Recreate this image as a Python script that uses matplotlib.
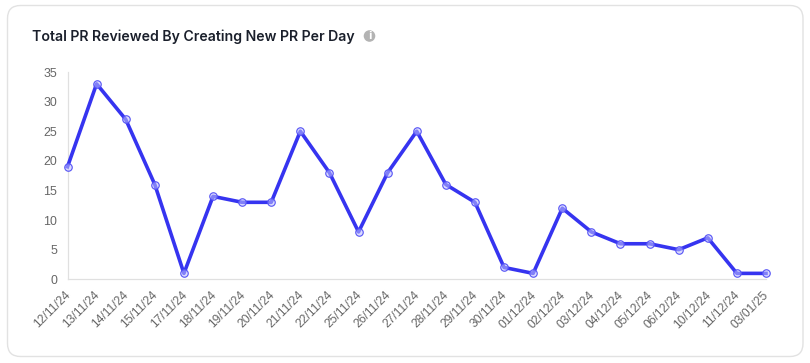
import matplotlib
matplotlib.use('Agg')
from matplotlib import pyplot as plt
from matplotlib.patches import FancyBboxPatch, Circle
from matplotlib.transforms import IdentityTransform, ScaledTranslation

dates = ['12/11/24', '13/11/24', '14/11/24', '15/11/24', '17/11/24', '18/11/24', '19/11/24',
         '20/11/24', '21/11/24', '22/11/24', '25/11/24', '26/11/24', '27/11/24', '28/11/24',
         '29/11/24', '30/11/24', '01/12/24', '02/12/24', '03/12/24', '04/12/24', '05/12/24',
         '06/12/24', '10/12/24', '11/12/24', '03/01/25']
pr_counts = [19, 33, 27, 16, 1, 14, 13, 13, 25, 18, 8, 18, 25, 16, 13, 2, 1, 12, 8, 6, 6, 5, 7, 1, 1]
y_ticks = [0, 5, 10, 15, 20, 25, 30, 35]

W, H = 810, 363
fig = plt.figure(figsize=(W / 100, H / 100), dpi=100, facecolor='white')

# card behind the chart, in pixels (y measured from the bottom)
card = FancyBboxPatch((7.5 + 13, H - 356.5 + 13), 795.5 - 26, 351 - 26,
                      boxstyle='round,pad=13,rounding_size=13',
                      transform=IdentityTransform(), facecolor='white',
                      edgecolor='#e2e2e2', linewidth=1.0, zorder=-1)
fig.add_artist(card)

left, right, top, bottom = 67.5, 766, 72, 279.3
ax = fig.add_axes([left / W, 1 - bottom / H, (right - left) / W, (bottom - top) / H])
ax.patch.set_alpha(0)

x = list(range(len(dates)))
ax.plot(x, pr_counts, color='#3634f0', linewidth=2.6, zorder=3, clip_on=False)
# hollow looking markers, the line shows through the fill
ax.plot(x, pr_counts, linestyle='none', marker='o', markersize=5.4,
        markerfacecolor=(0.75, 0.75, 1.0, 0.55), markeredgecolor='#5553f5', markeredgewidth=0.8,
        clip_on=False, zorder=4)

ax.set_xlim(0, len(dates) - 1)
ax.set_ylim(0, 35)
ax.set_yticks(y_ticks)
ax.set_xticks(x)
ax.set_xticklabels(dates, rotation=45, ha='right', va='top', rotation_mode='anchor',
                   family='Liberation Sans', fontsize=8.64, color='#666666')
for lab in ax.get_yticklabels():
    lab.set_family('Liberation Sans')
    lab.set_fontsize(8.9)
    lab.set_color('#666666')
ax.tick_params(axis='both', length=0)
ax.tick_params(axis='x', pad=7)
ax.tick_params(axis='y', pad=7.6)

# nudge the date labels left a little
shift = ScaledTranslation(-3 / 100, 0, fig.dpi_scale_trans)
for lab in ax.get_xticklabels():
    lab.set_transform(lab.get_transform() + shift)

for side in ['top', 'right']:
    ax.spines[side].set_visible(False)
for side in ['left', 'bottom']:
    ax.spines[side].set_color('#e0e0e0')
    ax.spines[side].set_linewidth(0.9)

fig.text(32 / W, 1 - 36.5 / H, 'Total PR Reviewed By Creating New PR Per Day', family='Inter',
         fontweight='semibold', fontsize=10.15, color='#1a1f2b', ha='left', va='center')

# info icon next to the title
fig.add_artist(Circle((369.5, H - 36), 5.8, transform=IdentityTransform(),
                      facecolor='#b3b3b3', edgecolor='none'))
fig.text(369.5 / W, 1 - 36 / H, 'i', family='DejaVu Sans', fontweight='bold', fontsize=7,
         color='white', ha='center', va='center')

fig.savefig('out.png', dpi=100)
